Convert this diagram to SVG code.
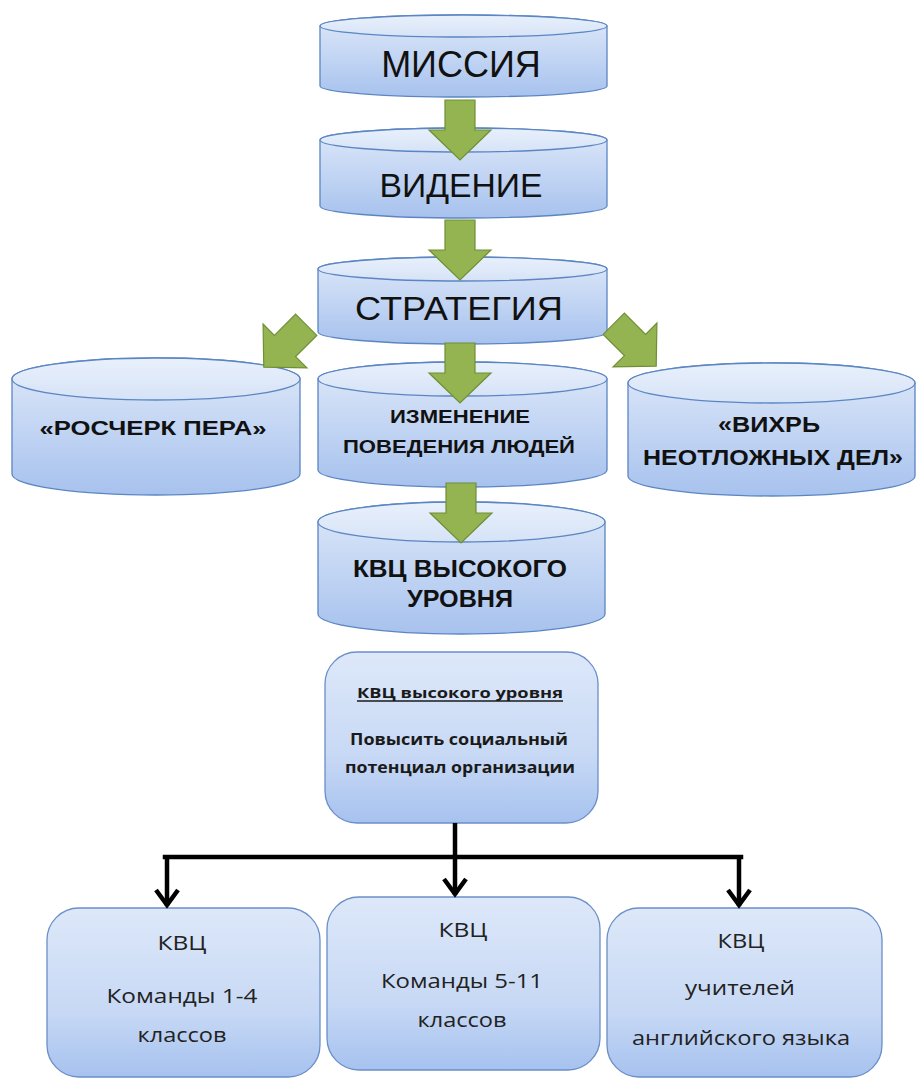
<svg xmlns="http://www.w3.org/2000/svg" width="917" height="1079" viewBox="0 0 917 1079">
<defs>
<linearGradient id="gBody" x1="0" y1="0" x2="0" y2="1">
<stop offset="0" stop-color="#dfe9f9"/>
<stop offset="1" stop-color="#a7c2ee"/>
</linearGradient>
<linearGradient id="gTop" x1="0" y1="0" x2="0" y2="1">
<stop offset="0" stop-color="#e8f0fb"/>
<stop offset="1" stop-color="#d6e3f7"/>
</linearGradient>
<linearGradient id="gBox" x1="0" y1="0" x2="0" y2="1">
<stop offset="0" stop-color="#dde8f9"/>
<stop offset="0.6" stop-color="#c8d9f5"/>
<stop offset="1" stop-color="#a6c2ef"/>
</linearGradient>
<marker id="chev" markerUnits="userSpaceOnUse" markerWidth="40" markerHeight="40" viewBox="-20 -20 40 40" refX="0" refY="0" orient="auto">
<path d="M-16,-11 L-1,0 L-16,11" fill="none" stroke="#000" stroke-width="4.5" stroke-linejoin="miter"/>
</marker>
<polygon id="garrow" points="-15,-30 15,-30 15,0 31,0 0,30 -31,0 -15,0"/>
</defs>
<style>
.body{fill:url(#gBody);stroke:#5b86c3;stroke-width:1.3}
.top{fill:url(#gTop);stroke:#5b86c3;stroke-width:1.3}
.box{fill:url(#gBox);stroke:#6b8fc7;stroke-width:1.3}
.big{font-family:"Liberation Sans",Arial,sans-serif;fill:#111;text-anchor:middle}
.bold{font-family:"Liberation Sans",Arial,sans-serif;font-weight:bold;fill:#111;text-anchor:middle}
.cal{font-family:"Open Sans","Noto Sans",sans-serif;fill:#222;text-anchor:middle}
.calb{font-family:"Open Sans","Noto Sans",sans-serif;font-weight:bold;fill:#1a1a1a;text-anchor:middle}
.ga{fill:#93b451;stroke:#6f8f36;stroke-width:1.2}
.ln{fill:none;stroke:#000;stroke-width:4.5}
</style>
<rect width="917" height="1079" fill="#fff"/>

<g id="node-missiya">
<path class="body" d="M320,26 L320,86 A143.5,11 0 0 0 607,86 L607,26 A143.5,11 0 0 0 320,26 Z"/>
<ellipse class="top" cx="463.5" cy="26" rx="143.5" ry="11"/>
<text class="big" x="461" y="77" font-size="36">МИССИЯ</text>
</g>
<g id="node-videnie">
<path class="body" d="M320,140 L320,206 A143.5,12 0 0 0 607,206 L607,140 A143.5,12 0 0 0 320,140 Z"/>
<ellipse class="top" cx="463.5" cy="140" rx="143.5" ry="12"/>
<text class="big" x="461" y="197" font-size="34" textLength="163" lengthAdjust="spacingAndGlyphs">ВИДЕНИЕ</text>
</g>
<g id="node-strategiya">
<path class="body" d="M318,269 L318,332 A144.5,12 0 0 0 607,332 L607,269 A144.5,12 0 0 0 318,269 Z"/>
<ellipse class="top" cx="462.5" cy="269" rx="144.5" ry="12"/>
<text class="big" x="459" y="320" font-size="33" textLength="208" lengthAdjust="spacingAndGlyphs">СТРАТЕГИЯ</text>
</g>
<g id="node-roscherk">
<path class="body" d="M12,379 L12,474 A144,21 0 0 0 300,474 L300,379 A144,21 0 0 0 12,379 Z"/>
<ellipse class="top" cx="156" cy="379" rx="144" ry="21"/>
<text class="bold" x="153" y="435" font-size="21" textLength="227" lengthAdjust="spacingAndGlyphs">«РОСЧЕРК ПЕРА»</text>
</g>
<g id="node-izmenenie">
<path class="body" d="M318,379 L318,470 A144.5,17 0 0 0 607,470 L607,379 A144.5,17 0 0 0 318,379 Z"/>
<ellipse class="top" cx="462.5" cy="379" rx="144.5" ry="17"/>
<text class="bold" x="460" y="423" font-size="18" textLength="140" lengthAdjust="spacingAndGlyphs">ИЗМЕНЕНИЕ</text>
<text class="bold" x="459" y="453" font-size="18" textLength="232" lengthAdjust="spacingAndGlyphs">ПОВЕДЕНИЯ ЛЮДЕЙ</text>
</g>
<g id="node-vikhr">
<path class="body" d="M628,383 L628,476 A143.5,20 0 0 0 915,476 L915,383 A143.5,20 0 0 0 628,383 Z"/>
<ellipse class="top" cx="771.5" cy="383" rx="143.5" ry="20"/>
<text class="bold" x="769" y="432" font-size="22" textLength="102" lengthAdjust="spacingAndGlyphs">«ВИХРЬ</text>
<text class="bold" x="773" y="465" font-size="22" textLength="260" lengthAdjust="spacingAndGlyphs">НЕОТЛОЖНЫХ ДЕЛ»</text>
</g>
<g id="node-kvc-cyl">
<path class="body" d="M318,522 L318,614 A143.5,20 0 0 0 605,614 L605,522 A143.5,20 0 0 0 318,522 Z"/>
<ellipse class="top" cx="461.5" cy="522" rx="143.5" ry="20"/>
<text class="bold" x="460" y="577" font-size="24" textLength="214" lengthAdjust="spacingAndGlyphs">КВЦ ВЫСОКОГО</text>
<text class="bold" x="460" y="607" font-size="24" textLength="106" lengthAdjust="spacingAndGlyphs">УРОВНЯ</text>
</g>

<g id="node-kvc-main">
<rect class="box" x="325" y="652" width="273" height="171" rx="32"/>
<text class="calb" x="460" y="698" font-size="15" textLength="206" lengthAdjust="spacingAndGlyphs">КВЦ высокого уровня</text>
<line x1="357" y1="701" x2="563" y2="701" stroke="#1a1a1a" stroke-width="1.3"/>
<text class="calb" x="459" y="745" font-size="16" textLength="218" lengthAdjust="spacingAndGlyphs">Повысить социальный</text>
<text class="calb" x="460" y="773" font-size="16" textLength="230" lengthAdjust="spacingAndGlyphs">потенциал организации</text>
</g>
<g id="node-team14">
<rect class="box" x="47" y="908" width="273" height="169" rx="32"/>
<text class="cal" x="182" y="950" font-size="20" textLength="49" lengthAdjust="spacingAndGlyphs">КВЦ</text>
<text class="cal" x="182" y="1003" font-size="20" textLength="151" lengthAdjust="spacingAndGlyphs">Команды  1-4</text>
<text class="cal" x="182" y="1042" font-size="20" textLength="89" lengthAdjust="spacingAndGlyphs">классов</text>
</g>
<g id="node-team511">
<rect class="box" x="327" y="897" width="273" height="173" rx="32"/>
<text class="cal" x="463" y="937" font-size="20" textLength="49" lengthAdjust="spacingAndGlyphs">КВЦ</text>
<text class="cal" x="462" y="988" font-size="20" textLength="162" lengthAdjust="spacingAndGlyphs">Команды 5-11</text>
<text class="cal" x="462" y="1027" font-size="20" textLength="89" lengthAdjust="spacingAndGlyphs">классов</text>
</g>
<g id="node-english">
<rect class="box" x="607" y="908" width="275" height="169" rx="32"/>
<text class="cal" x="741" y="948" font-size="20" textLength="47" lengthAdjust="spacingAndGlyphs">КВЦ</text>
<text class="cal" x="740" y="995" font-size="20" textLength="110" lengthAdjust="spacingAndGlyphs">учителей</text>
<text class="cal" x="741" y="1045" font-size="20" textLength="218" lengthAdjust="spacingAndGlyphs">английского языка</text>
</g>

<g id="connectors">
<use href="#garrow" class="ga" transform="translate(460,130)"/>
<use href="#garrow" class="ga" transform="translate(460,250)"/>
<use href="#garrow" class="ga" transform="translate(460,373)"/>
<use href="#garrow" class="ga" transform="translate(461,513)"/>
<use href="#garrow" class="ga" transform="translate(285,346) rotate(45)"/>
<use href="#garrow" class="ga" transform="translate(635,345) rotate(-45)"/>
<line class="ln" x1="455" y1="823" x2="455" y2="857"/>
<line class="ln" x1="165" y1="857" x2="741" y2="857" stroke-linecap="square"/>
<line class="ln" x1="167" y1="857" x2="167" y2="906" marker-end="url(#chev)"/>
<line class="ln" x1="455" y1="857" x2="455" y2="895" marker-end="url(#chev)"/>
<line class="ln" x1="739" y1="857" x2="739" y2="906" marker-end="url(#chev)"/>
</g>
</svg>
